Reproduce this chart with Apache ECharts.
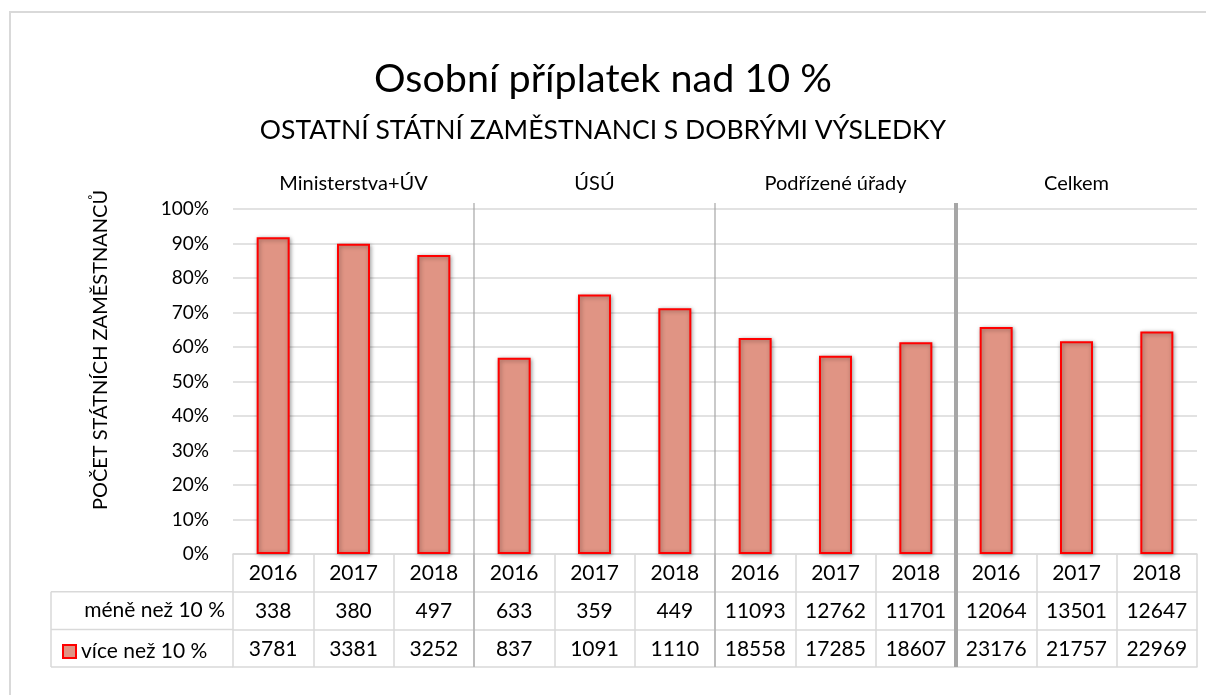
<!DOCTYPE html>
<html><head><meta charset="utf-8">
<script src="https://cdn.jsdelivr.net/npm/echarts@6/dist/echarts.min.js"></script>
<style>html,body{margin:0;padding:0;background:#fff}#c{width:1206px;height:695px}</style>
</head><body><div id="c"></div>
<script>
// ---- data ----
const years = ['2016','2017','2018','2016','2017','2018','2016','2017','2018','2016','2017','2018'];
const groups = ['Ministerstva+ÚV','ÚSÚ','Podřízené úřady','Celkem'];
const meneNez10 = [338,380,497,633,359,449,11093,12762,11701,12064,13501,12647];
const viceNez10 = [3781,3381,3252,837,1091,1110,18558,17285,18607,23176,21757,22969];
// share of "více než 10 %" (in %)
const podilVice = [91.8,89.9,86.7,56.9,75.2,71.2,62.6,57.5,61.4,65.8,61.7,64.5];
const title = 'Osobní příplatek nad 10 %';
const subtitle = 'OSTATNÍ STÁTNÍ ZAMĚSTNANCI S DOBRÝMI VÝSLEDKY';
const yName = 'POČET STÁTNÍCH ZAMĚSTNANCŮ';
const rowMene = 'méně než 10 %';
const rowVice = 'více než 10 %';

const FONT = 'Lato';
const TXT = '#000';
const GRIDC = '#d9d9d9';
const ROWH = 37.7;

const chart = echarts.init(document.getElementById('c'));
const option = {
  animation: false,
  backgroundColor: '#fff',
  textStyle: {fontFamily: FONT, color: TXT},
  title: [
    {text: title, left: 'center', top: 54, textStyle: {fontFamily: FONT, fontSize: 39.5, fontWeight: 'normal', color: TXT}},
    {text: subtitle, left: 'center', top: 112, textStyle: {fontFamily: FONT, fontSize: 26.5, fontWeight: 'normal', color: TXT}}
  ],
  legend: {
    data: [rowVice], left: 57, top: 636, icon: 'rect', itemWidth: 13, itemHeight: 13, itemGap: 6,
    textStyle: {fontFamily: FONT, fontSize: 21, color: TXT}, selectedMode: false
  },
  grid: {left: 233, right: 9, top: 209, bottom: 141, containLabel: false},
  xAxis: [
    {type: 'category', data: years, position: 'bottom',
     axisLine: {lineStyle: {color: GRIDC, width: 1.5}},
     axisTick: {show: true, length: ROWH * 3, lineStyle: {color: GRIDC, width: 1.5}},
     axisLabel: {fontFamily: FONT, fontSize: 21, color: TXT, margin: 9}},
    {type: 'category', data: meneNez10.map(String), position: 'bottom', offset: ROWH,
     axisLine: {lineStyle: {color: GRIDC, width: 1.5}}, axisTick: {show: false},
     axisLabel: {fontFamily: FONT, fontSize: 21, color: TXT, margin: 9}},
    {type: 'category', data: viceNez10.map(String), position: 'bottom', offset: ROWH * 2,
     axisLine: {lineStyle: {color: GRIDC, width: 1.5}}, axisTick: {show: false},
     axisLabel: {fontFamily: FONT, fontSize: 21, color: TXT, margin: 9}},
    {type: 'category', data: years, position: 'bottom', offset: ROWH * 3,
     axisLine: {lineStyle: {color: GRIDC, width: 1.5}}, axisTick: {show: false}, axisLabel: {show: false}},
    {type: 'category', data: groups, position: 'top',
     axisLine: {show: false}, axisTick: {show: false},
     axisLabel: {fontFamily: FONT, fontSize: 20, color: TXT, margin: 15}}
  ],
  yAxis: {
    type: 'value', min: 0, max: 100, interval: 10,
    axisLine: {show: false}, axisTick: {show: false},
    axisLabel: {formatter: '{value}%', fontFamily: FONT, fontSize: 19, color: TXT, margin: 24},
    splitLine: {lineStyle: {color: GRIDC, width: 1.5}}
  },
  series: [{
    name: rowVice, type: 'bar', data: podilVice, xAxisIndex: 0, barWidth: 33,
    itemStyle: {color: '#E09484', borderColor: '#FF0000', borderWidth: 2,
      shadowBlur: 4, shadowColor: 'rgba(0,0,0,0.35)', shadowOffsetX: 1, shadowOffsetY: 1}
  }]
};
chart.setOption(option);

// table frame and group separators, positioned from the axes
const p0 = chart.convertToPixel({xAxisIndex: 0}, 0);
const p1 = chart.convertToPixel({xAxisIndex: 0}, 1);
const band = p1 - p0;
const x0 = p0 - band / 2;
const yBase = chart.convertToPixel({yAxisIndex: 0}, 0);
const yTop = chart.convertToPixel({yAxisIndex: 0}, 100);
const tableLeft = 51;
const els = [];
const L = (x1, y1, x2, y2, c, w) => els.push({type: 'line', shape: {x1, y1, x2, y2}, style: {stroke: c, lineWidth: w}, z: 10});
// outer chart border
els.push({type: 'rect', shape: {x: 10, y: 12, width: 1300, height: 800}, style: {fill: 'none', stroke: '#d9d9d9', lineWidth: 2}, z: 0});
// table left part
for (let r = 1; r <= 3; r++) L(tableLeft, yBase + ROWH * r, x0, yBase + ROWH * r, GRIDC, 1.5);
L(tableLeft, yBase + ROWH, tableLeft, yBase + ROWH * 3, GRIDC, 1.5);
// row header text
els.push({type: 'text', x: x0 - 8, y: yBase + ROWH * 1.5, style: {text: rowMene, font: '21px ' + FONT, fill: TXT, textAlign: 'right', textVerticalAlign: 'middle'}, z: 10});
// group separators
[3, 6, 9].forEach((k, i) => {
  const x = x0 + k * band;
  L(x, yTop - 6, x, yBase + ROWH * 3, '#a6a6a6', i === 2 ? 4 : 1.2);
});
// y axis name
els.push({type: 'text', x: 101, y: 350, rotation: Math.PI / 2,
  style: {text: yName, font: '20px ' + FONT, fill: TXT, textAlign: 'center', textVerticalAlign: 'middle'}, z: 10});
chart.setOption({graphic: els});
</script></body></html>
